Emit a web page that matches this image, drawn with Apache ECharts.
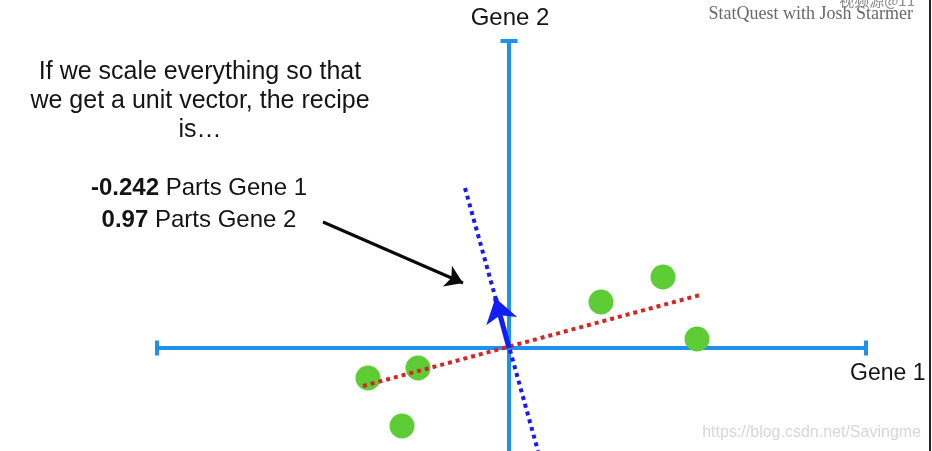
<!DOCTYPE html>
<html>
<head>
<meta charset="utf-8">
<script src="https://cdn.jsdelivr.net/npm/echarts@6/dist/echarts.min.js"></script>
<style>
  html, body { margin: 0; padding: 0; background: #fff; }
  #chart { width: 932px; height: 451px; }
</style>
</head>
<body>
<div id="chart"></div>
<script>
// gene space, origin at the crossing of the two axes
const xRange = [-25.45, 21.15]
const yRange = [-5.15, 17.4]

const gene1Axis = [[-17.6, 0], [17.85, 0]]
const gene2Axis = [[0, -6], [0, 15.35]]

// samples (gene 1, gene 2)
const samples = [
  [7.7, 3.55],
  [4.6, 2.3],
  [9.4, 0.45],
  [-4.55, -1.0],
  [-7.05, -1.5],
  [-5.35, -3.9],
]

const pc1Line = [[-7.3, -1.9], [9.55, 2.65]]
const pc2Line = [[-2.2, 8.0], [1.45, -5.15]]
const unitVector = [[0, 0], [-0.68, 2.5]]
const pointerArrow = [[-9.3, 6.3], [-2.3, 3.25]]

const AXIS_BLUE = '#1e90ee'
const FONT = 'Liberation Sans'

const chart = echarts.init(document.getElementById('chart'))

chart.setOption({
  animation: false,
  backgroundColor: '#fff',
  grid: { left: 0, right: 0, top: 0, bottom: 0 },
  xAxis: { type: 'value', min: xRange[0], max: xRange[1], show: false },
  yAxis: { type: 'value', min: yRange[0], max: yRange[1], show: false },
  series: [
    {
      type: 'lines',
      coordinateSystem: 'cartesian2d',
      z: 1,
      lineStyle: { color: AXIS_BLUE, width: 4, opacity: 1 },
      data: [{ coords: gene1Axis }, { coords: gene2Axis }],
    },
    {
      // end caps of the axes
      type: 'scatter',
      z: 1,
      symbol: 'rect',
      itemStyle: { color: AXIS_BLUE, opacity: 1 },
      data: [
        { value: gene1Axis[0], symbolSize: [4, 15] },
        { value: gene1Axis[1], symbolSize: [4, 15] },
        { value: gene2Axis[1], symbolSize: [17, 4] },
      ],
    },
    {
      type: 'scatter',
      z: 2,
      symbolSize: 25,
      itemStyle: { color: '#5dcc35', opacity: 1 },
      data: samples,
    },
    {
      type: 'lines',
      coordinateSystem: 'cartesian2d',
      z: 3,
      lineStyle: { color: '#d42424', width: 4, type: 'dotted', opacity: 1 },
      data: [{ coords: pc1Line }],
    },
    {
      type: 'lines',
      coordinateSystem: 'cartesian2d',
      z: 3,
      lineStyle: { color: '#1a1af0', width: 4, type: 'dotted', opacity: 1 },
      data: [{ coords: pc2Line }],
    },
    {
      type: 'lines',
      coordinateSystem: 'cartesian2d',
      z: 4,
      symbol: ['none', 'arrow'],
      symbolSize: [22, 24],
      lineStyle: { color: '#1020f5', width: 5, opacity: 1 },
      data: [{ coords: unitVector }],
    },
    {
      type: 'lines',
      coordinateSystem: 'cartesian2d',
      z: 4,
      symbol: ['none', 'arrow'],
      symbolSize: [16, 17],
      lineStyle: { color: '#0a0a0a', width: 3, opacity: 1 },
      data: [{ coords: pointerArrow }],
    },
  ],
  graphic: [
    {
      type: 'text', x: 200, y: 101, silent: true,
      style: {
        text: 'If we scale everything so that\nwe get a unit vector, the recipe\nis…',
        font: '25px "' + FONT + '"', fill: '#141414',
        align: 'center', verticalAlign: 'middle', lineHeight: 29,
      },
    },
    {
      type: 'text', x: 199, y: 204, silent: true,
      style: {
        text: '{b|-0.242} Parts Gene 1\n{b|0.97} Parts Gene 2',
        font: '24px "' + FONT + '"', fill: '#141414',
        align: 'center', verticalAlign: 'middle', lineHeight: 32,
        rich: { b: { fontWeight: 'bold', fontSize: 24, fontFamily: FONT, fill: '#141414' } },
      },
    },
    {
      type: 'text', x: 510, y: 18, silent: true,
      style: { text: 'Gene 2', font: '24px "' + FONT + '"', fill: '#141414', align: 'center', verticalAlign: 'middle' },
    },
    {
      type: 'text', x: 850, y: 374, silent: true,
      style: { text: 'Gene 1', font: '23px "' + FONT + '"', fill: '#141414', align: 'left', verticalAlign: 'middle' },
    },
    {
      type: 'text', x: 913, y: 14, silent: true,
      style: { text: 'StatQuest with Josh Starmer', font: '18px "Liberation Serif"', fill: '#6a6a6a', align: 'right', verticalAlign: 'middle' },
    },
    {
      type: 'text', x: 915, y: 0, silent: true,
      style: { text: '视频源@11', font: '15px "Noto Sans CJK SC"', fill: '#8a8a8a', align: 'right', verticalAlign: 'middle' },
    },
    {
      type: 'text', x: 921, y: 433, silent: true,
      style: { text: 'https://blog.csdn.net/Savingme', font: '16px "' + FONT + '"', fill: '#d6d6d6', align: 'right', verticalAlign: 'middle' },
    },
    {
      type: 'line', silent: true,
      shape: { x1: 930, y1: 0, x2: 930, y2: 451 },
      style: { stroke: '#222', lineWidth: 2 },
    },
  ],
})
</script>
</body>
</html>
